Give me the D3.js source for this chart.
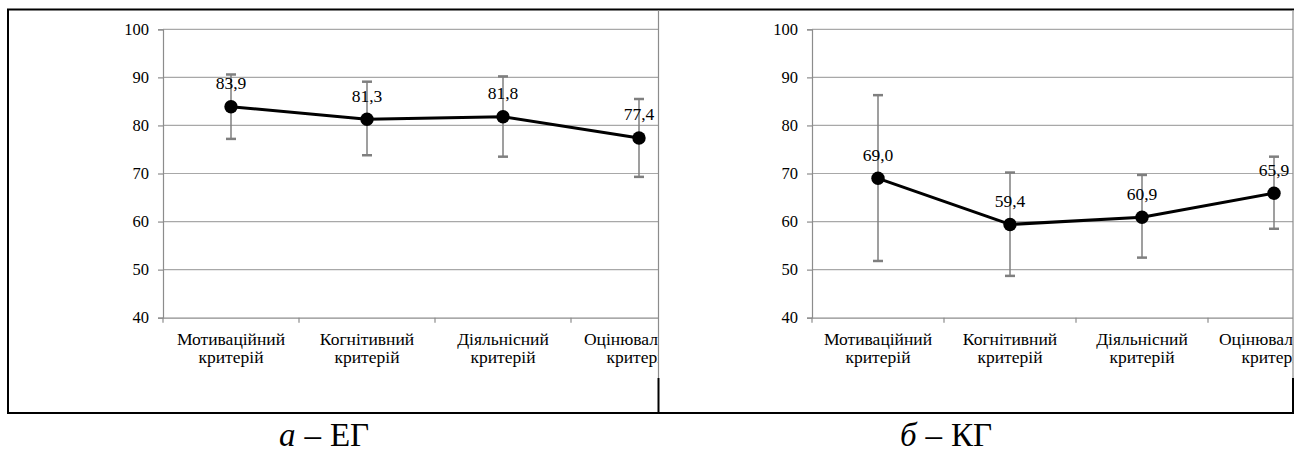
<!DOCTYPE html>
<html><head><meta charset="utf-8">
<script src="https://cdn.jsdelivr.net/npm/d3@7"></script>
<style>body{margin:0;background:#fff}svg{display:block}</style>
</head><body>
<svg id="c" width="1304" height="453" font-family="Liberation Serif"></svg>
<script>
const categories = [["Мотиваційний","критерій"],["Когнітивний","критерій"],["Діяльнісний","критерій"],["Оцінювальний","критерій"]];
const yTicks = [40,50,60,70,80,90,100];
const egValues = [83.9, 81.3, 81.8, 77.4];
const egLow = [77.2, 73.8, 73.5, 69.3];
const egHigh = [90.6, 89.1, 90.2, 85.5];
const kgValues = [69.0, 59.4, 60.9, 65.9];
const kgLow = [51.8, 48.7, 52.5, 58.5];
const kgHigh = [86.3, 70.2, 69.7, 73.5];
const captions = [["а","–","ЕГ"],["б","–","КГ"]];

const svg = d3.select("#c");
svg.append("rect").attr("width",1304).attr("height",453).attr("fill","#fff");
const defs = svg.append("defs");

const panels = [
  {x0:8, x1:658, axisX:163, band:136, vals:egValues, lo:egLow, hi:egHigh, cap:captions[0], capX:324},
  {x0:658, x1:1293, axisX:812, band:132, vals:kgValues, lo:kgLow, hi:kgHigh, cap:captions[1], capX:946}
];
const yTop = 29.3, yBot = 317.7;

panels.forEach((p,i)=>{
  const id = "clip"+i;
  defs.append("clipPath").attr("id",id).append("rect")
    .attr("x",p.x0).attr("y",9).attr("width",p.x1-p.x0).attr("height",404);
  const g = svg.append("g").attr("clip-path",`url(#${id})`);
  const x = d3.scaleBand().domain(d3.range(categories.length)).range([p.axisX, p.axisX + p.band*categories.length]).paddingInner(0).paddingOuter(0);
  const y = d3.scaleLinear().domain([40,100]).range([yBot, yTop]);
  const xEnd = p.axisX + p.band*categories.length;

  g.append("g").selectAll("line").data(yTicks.filter(t=>t>40)).join("line")
    .attr("x1",p.axisX).attr("x2",xEnd).attr("y1",d=>y(d)).attr("y2",d=>y(d))
    .attr("stroke","#a8a8a8").attr("stroke-width",1.2);

  const ya = g.append("g").attr("transform",`translate(${p.axisX},0)`)
    .call(d3.axisLeft(y).tickValues(yTicks).tickSize(5).tickPadding(9).tickFormat(d3.format("d")));
  ya.attr("font-family","Liberation Serif").attr("font-size",16.5);
  ya.select(".domain").attr("stroke","#8c8c8c").attr("stroke-width",1.2);
  ya.selectAll(".tick line").attr("stroke","#8c8c8c").attr("stroke-width",1.2);
  ya.selectAll(".tick text").attr("fill","#000");

  const xa = g.append("g").attr("transform",`translate(0,${yBot})`)
    .call(d3.axisBottom(x).tickSize(0).tickFormat(""));
  xa.attr("font-family","Liberation Serif");
  xa.select(".domain").attr("stroke","#8c8c8c").attr("stroke-width",1.2);
  g.append("g").selectAll("line").data(d3.range(categories.length+1)).join("line")
    .attr("x1",d=>p.axisX+d*p.band).attr("x2",d=>p.axisX+d*p.band)
    .attr("y1",yBot).attr("y2",yBot+5).attr("stroke","#8c8c8c").attr("stroke-width",1.2);

  const cx = d=>x(d)+x.bandwidth()/2;
  const cl = g.append("g").selectAll("text").data(categories).join("text")
    .attr("text-anchor","middle").attr("font-size",17.5).attr("fill","#000").attr("font-family","Liberation Serif");
  cl.each(function(d,j){
    const t = d3.select(this);
    d.forEach((ln,k)=>t.append("tspan").attr("x",cx(j)).attr("y",345+k*18).text(ln));
  });

  const eb = g.append("g").attr("stroke","#7f7f7f");
  eb.selectAll("line.v").data(p.vals).join("line").attr("class","v")
    .attr("x1",(d,j)=>cx(j)).attr("x2",(d,j)=>cx(j))
    .attr("y1",(d,j)=>y(p.hi[j])).attr("y2",(d,j)=>y(p.lo[j])).attr("stroke-width",1.5);
  eb.selectAll("line.h").data(p.vals).join("line").attr("class","h")
    .attr("x1",(d,j)=>cx(j)-5).attr("x2",(d,j)=>cx(j)+5)
    .attr("y1",(d,j)=>y(p.hi[j])).attr("y2",(d,j)=>y(p.hi[j])).attr("stroke-width",2.5);
  eb.selectAll("line.l").data(p.vals).join("line").attr("class","l")
    .attr("x1",(d,j)=>cx(j)-5).attr("x2",(d,j)=>cx(j)+5)
    .attr("y1",(d,j)=>y(p.lo[j])).attr("y2",(d,j)=>y(p.lo[j])).attr("stroke-width",2.5);

  g.append("path").datum(p.vals)
    .attr("d", d3.line().x((d,j)=>cx(j)).y(d=>y(d)))
    .attr("fill","none").attr("stroke","#000").attr("stroke-width",3).attr("stroke-linejoin","round");
  g.append("g").selectAll("circle").data(p.vals).join("circle")
    .attr("cx",(d,j)=>cx(j)).attr("cy",d=>y(d)).attr("r",6.7).attr("fill","#000");

  g.append("g").selectAll("text").data(p.vals).join("text")
    .attr("x",(d,j)=>cx(j)).attr("y",d=>y(d)-17.5).attr("text-anchor","middle").attr("font-size",17.5)
    .attr("fill","#000").attr("font-family","Liberation Serif")
    .text(d=>d3.format(".1f")(d).replace(".",","));

  const ct = svg.append("text").attr("x",p.capX).attr("y",446).attr("text-anchor","middle").attr("font-size",33)
    .attr("fill","#000").attr("font-family","Liberation Serif");
  ct.append("tspan").attr("font-style","italic").text(p.cap[0]);
  ct.append("tspan").attr("dx",9).text(p.cap[1]);
  ct.append("tspan").attr("dx",9).text(p.cap[2]);
});

const fr = svg.append("g");
fr.append("line").attr("x1",7).attr("x2",1294).attr("y1",9.5).attr("y2",9.5).attr("stroke","#000").attr("stroke-width",2);
fr.append("line").attr("x1",7).attr("x2",1294).attr("y1",413).attr("y2",413).attr("stroke","#000").attr("stroke-width",2);
fr.append("line").attr("x1",8).attr("x2",8).attr("y1",9).attr("y2",414).attr("stroke","#000").attr("stroke-width",2);
[658.5,1293].forEach(xx=>{
  fr.append("line").attr("x1",xx).attr("x2",xx).attr("y1",10).attr("y2",378).attr("stroke","#8c8c8c").attr("stroke-width",1.2);
  fr.append("line").attr("x1",xx).attr("x2",xx).attr("y1",378).attr("y2",414).attr("stroke","#000").attr("stroke-width",2);
});
</script>
</body></html>
